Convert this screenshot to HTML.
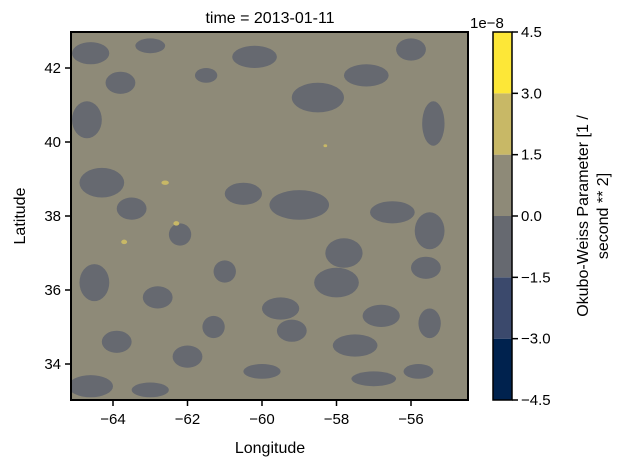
<!DOCTYPE html>
<html><head><meta charset="utf-8"><style>
body{margin:0;background:#fff;font-family:"Liberation Sans","DejaVu Sans",sans-serif;}
</style></head><body>
<svg id="chart" width="622" height="467" xmlns="http://www.w3.org/2000/svg" font-family="Liberation Sans, DejaVu Sans, sans-serif">
<defs><clipPath id="pc"><rect x="71" y="32" width="397" height="368"/></clipPath></defs>
<text x="270" y="23" font-size="16" text-anchor="middle">time = 2013-01-11</text>
<rect x="71" y="32" width="397" height="368" fill="#8e8a78"/>
<g id="field" clip-path="url(#pc)"></g>
<rect x="71" y="32" width="397" height="368" fill="none" stroke="#000" stroke-width="2"/>
<g id="xaxis"></g>
<g id="yaxis"></g>
<text x="270" y="453" font-size="16" text-anchor="middle">Longitude</text>
<text transform="translate(25,216) rotate(-90)" font-size="16" text-anchor="middle">Latitude</text>
<g id="cbar"></g>
<text x="470" y="28" font-size="15">1e−8</text>
<text transform="translate(593,216) rotate(-90)" font-size="16" text-anchor="middle"><tspan x="0" dy="-5">Okubo-Weiss Parameter [1 /</tspan><tspan x="0" dy="20">second ** 2]</tspan></text>
</svg>
<script>
const xTicks=[-64,-62,-60,-58,-56];
const yTicks=[34,36,38,40,42];
const levels=[-4.5,-3.0,-1.5,0.0,1.5,3.0,4.5];
const levelColors=['#00224e','#3b496c','#666970','#8e8a78','#c8b866','#fde737'];
// blobs: lon, lat, radius-lon, radius-lat, value (1e-8)
const blobLon=[-64.6,-63.8,-64.7,-63.0,-61.5,-60.2,-58.5,-57.2,-56.0,-55.4,-64.3,-63.5,-62.2,-60.5,-59.0,-57.8,-56.5,-55.5,-64.5,-62.8,-61.0,-59.5,-58.0,-56.8,-55.6,-63.9,-62.0,-60.0,-57.5,-55.8,-64.6,-63.0,-61.3,-59.2,-57.0,-55.5,-62.6,-58.3,-63.7,-62.3];
const blobLat=[42.4,41.6,40.6,42.6,41.8,42.3,41.2,41.8,42.5,40.5,38.9,38.2,37.5,38.6,38.3,37.0,38.1,37.6,36.2,35.8,36.5,35.5,36.2,35.3,36.6,34.6,34.2,33.8,34.5,33.8,33.4,33.3,35.0,34.9,33.6,35.1,38.9,39.9,37.3,37.8];
const blobRx=[0.5,0.4,0.4,0.4,0.3,0.6,0.7,0.6,0.4,0.3,0.6,0.4,0.3,0.5,0.8,0.5,0.6,0.4,0.4,0.4,0.3,0.5,0.6,0.5,0.4,0.4,0.4,0.5,0.6,0.4,0.6,0.5,0.3,0.4,0.6,0.3,0.1,0.05,0.08,0.08];
const blobRy=[0.3,0.3,0.5,0.2,0.2,0.3,0.4,0.3,0.3,0.6,0.4,0.3,0.3,0.3,0.4,0.4,0.3,0.5,0.5,0.3,0.3,0.3,0.4,0.3,0.3,0.3,0.3,0.2,0.3,0.2,0.3,0.2,0.3,0.3,0.2,0.4,0.06,0.04,0.06,0.06];
const blobVal=[-1,-1,-1,-1,-1,-1,-1,-1,-1,-1,-1,-1,-1,-1,-1,-1,-1,-1,-1,-1,-1,-1,-1,-1,-1,-1,-1,-1,-1,-1,-1,-1,-1,-1,-1,-1,2,2,2,2];
const NS='http://www.w3.org/2000/svg';
const xs=lon=>113+(lon+64)*37.25;
const ys=lat=>68+(42-lat)*37;
function colorFor(v){for(let i=0;i<levelColors.length;i++){if(v<levels[i+1])return levelColors[i];}return levelColors[levelColors.length-1];}
function mk(tag,attrs,parent){const e=document.createElementNS(NS,tag);for(const k in attrs)e.setAttribute(k,attrs[k]);parent.appendChild(e);return e;}
const field=document.getElementById('field');
blobLon.forEach((lon,i)=>{
  const e=mk('ellipse',{cx:xs(lon),cy:ys(blobLat[i]),rx:blobRx[i]*37.25,ry:blobRy[i]*37,fill:colorFor(blobVal[i])},field);
  
  
});
const xa=document.getElementById('xaxis');
xTicks.forEach(t=>{
  const x=xs(t);
  const l=mk('line',{x1:x,x2:x,y1:400,y2:406,stroke:'#000','stroke-width':1.5},xa);
  
  
  const tx=mk('text',{x:x,y:424,'font-size':15,'text-anchor':'middle'},xa);
  tx.textContent='\u2212'+Math.abs(t);
  
  
});
const ya=document.getElementById('yaxis');
yTicks.forEach(t=>{
  const y=ys(t);
  const l=mk('line',{x1:65,x2:71,y1:y,y2:y,stroke:'#000','stroke-width':1.5},ya);
  
  
  const tx=mk('text',{x:61,y:y+5,'font-size':15,'text-anchor':'end'},ya);
  tx.textContent=t;
  
  
});
const cb=document.getElementById('cbar');
const cy=v=>400-(v-levels[0])/(levels[levels.length-1]-levels[0])*368;
levelColors.forEach((c,i)=>{
  const r=mk('rect',{x:493,y:cy(levels[i+1]),width:19,height:cy(levels[i])-cy(levels[i+1]),fill:c},cb);
  
  
});
const fr=mk('rect',{x:493,y:32,width:19,height:368,fill:'none',stroke:'#000','stroke-width':1.5},cb);


levels.forEach(v=>{
  const y=cy(v);
  const l=mk('line',{x1:512,x2:518,y1:y,y2:y,stroke:'#000','stroke-width':1.5},cb);
  
  
  const tx=mk('text',{x:521,y:y+5,'font-size':15},cb);
  tx.textContent=(v<0?'\u2212':'')+Math.abs(v).toFixed(1);
  
  
});
</script>
</body></html>
